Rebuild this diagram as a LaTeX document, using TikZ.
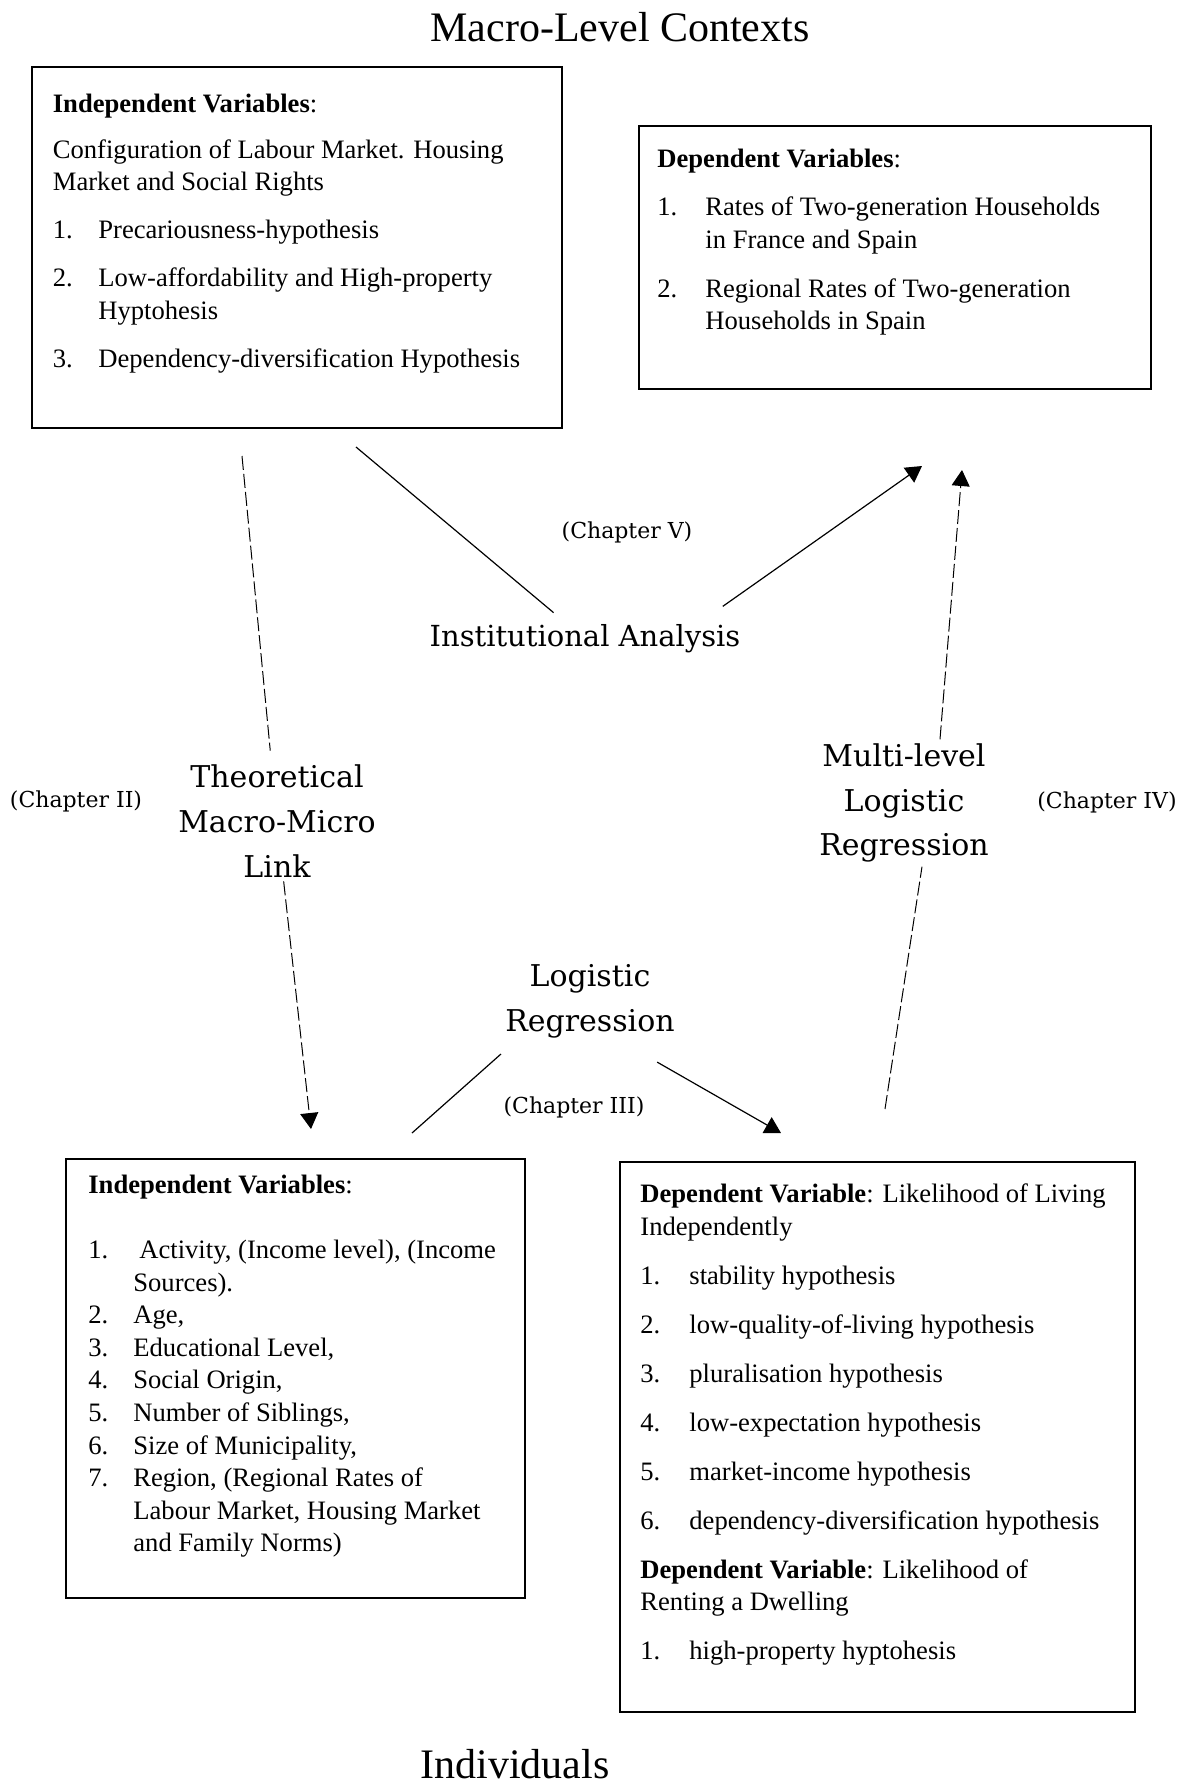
\documentclass[tikz,border=0pt]{standalone}
\usepackage{fontspec}
\setmainfont{Liberation Serif}
\newfontfamily\labelfont{DejaVu Serif}
\usetikzlibrary{arrows.meta}

\newlength{\itemw}
\newcommand{\itemno}[1]{\makebox[\itemw][l]{#1}}
\newcommand{\itemcont}{\hspace*{\itemw}}

\tikzset{
  frame/.style={draw, line width=0.8pt, inner sep=0pt, anchor=north west},
  boxtext/.style={anchor=north west, inner sep=0pt, align=left,
    font=\fontsize{13.3}{16.3}\selectfont},
  leveltitle/.style={anchor=base, inner sep=0pt, font=\fontsize{21}{25}\selectfont},
  method/.style={align=center, inner sep=2pt, font=\labelfont\fontsize{15}{22.3}\selectfont},
  chapter/.style={inner sep=1pt, font=\labelfont\fontsize{11}{13}\selectfont},
  link/.style={line width=0.6pt},
  dashlink/.style={line width=0.5pt, dash pattern=on 7pt off 2pt},
  tip/.style={-{Triangle[width=9pt,length=8pt]}}
}

\begin{document}
\begin{tikzpicture}[x=0.5pt, y=-0.5pt]
  \useasboundingbox (0,0) rectangle (1183,1788);

  % levels
  \node[leveltitle] (macro) at (620,41) {Macro-Level Contexts};
  \node[leveltitle] (micro) at (515,1778) {Individuals};

  % boxes
  \node[frame, minimum width=265pt, minimum height=180.5pt] (box1) at (31,66) {};
  \node[frame, minimum width=256pt, minimum height=131.5pt] (box2) at (638,125) {};
  \node[frame, minimum width=229.5pt, minimum height=219.5pt] (box3) at (65,1158) {};
  \node[frame, minimum width=257.5pt, minimum height=275pt] (box4) at (619,1161) {};

  % macro independent variables
  \setlength{\itemw}{22.75pt}
  \node[boxtext] (box1txt) at (52.5,93.6) {\textbf{Independent Variables}:\\[6.5pt]
    Configuration of Labour Market. Housing\\
    Market and Social Rights\\[7.7pt]
    \itemno{1.}Precariousness-hypothesis\\[7.7pt]
    \itemno{2.}Low-affordability and High-property\\
    \itemcont Hyptohesis\\[7.7pt]
    \itemno{3.}Dependency-diversification Hypothesis};

  % macro dependent variables
  \setlength{\itemw}{24pt}
  \node[boxtext] (box2txt) at (657,148.6) {\textbf{Dependent Variables}:\\[7.7pt]
    \itemno{1.}Rates of Two-generation Households\\
    \itemcont in France and Spain\\[8.2pt]
    \itemno{2.}Regional Rates of Two-generation\\
    \itemcont Households in Spain};

  % micro independent variables
  \setlength{\itemw}{22.5pt}
  \node[boxtext] (box3txt) at (88,1174.6) {\textbf{Independent Variables}:\\[16.2pt]
    \itemno{1.}\hspace{3pt}Activity, (Income level), (Income\\
    \itemcont Sources).\\
    \itemno{2.}Age,\\
    \itemno{3.}Educational Level,\\
    \itemno{4.}Social Origin,\\
    \itemno{5.}Number of Siblings,\\
    \itemno{6.}Size of Municipality,\\
    \itemno{7.}Region, (Regional Rates of\\
    \itemcont Labour Market, Housing Market\\
    \itemcont and Family Norms)};

  % micro dependent variables
  \setlength{\itemw}{24.5pt}
  \node[boxtext] (box4txt) at (640,1183.6) {\textbf{Dependent Variable}: Likelihood of Living\\
    Independently\\[8.2pt]
    \itemno{1.}stability hypothesis\\[8.2pt]
    \itemno{2.}low-quality-of-living hypothesis\\[8.2pt]
    \itemno{3.}pluralisation hypothesis\\[8.2pt]
    \itemno{4.}low-expectation hypothesis\\[8.2pt]
    \itemno{5.}market-income hypothesis\\[8.2pt]
    \itemno{6.}dependency-diversification hypothesis\\[8.2pt]
    \textbf{Dependent Variable}: Likelihood of\\
    Renting a Dwelling\\[8.2pt]
    \itemno{1.}high-property hyptohesis};

  % methods
  \node[method, font=\labelfont\fontsize{14.5}{22.3}\selectfont] (inst) at (585,639) {Institutional Analysis};
  \node[method] (theory) at (277,821) {Theoretical\\Macro-Micro\\Link};
  \node[method] (multi) at (904,803) {Multi-level\\Logistic\\Regression};
  \node[method] (logreg) at (590,1001) {Logistic\\Regression};

  % chapters
  \node[chapter] (ch2) at (76,801) {(Chapter II)};
  \node[chapter] (ch3) at (574,1107) {(Chapter III)};
  \node[chapter] (ch4) at (1107,802) {(Chapter IV)};
  \node[chapter] (ch5) at (627,532) {(Chapter V)};

  % free ends near the boxes
  \coordinate (b1a) at (242,456);
  \coordinate (b1b) at (356,447);
  \coordinate (b2a) at (922,466);
  \coordinate (b2b) at (962,470);
  \coordinate (b3a) at (311,1129);
  \coordinate (b3b) at (412,1133);
  \coordinate (b4a) at (781,1133);
  \coordinate (b4b) at (885,1109);

  % connectors
  \draw[dashlink, shorten >=5pt] (b1a) -- (theory);
  \draw[dashlink, tip] (theory) -- (b3a);
  \draw[link, shorten >=6pt] (b1b) -- (inst);
  \draw[link, tip] ([xshift=-11pt, yshift=7pt]inst.north east) -- (b2a);
  \draw[dashlink] (b4b) -- ([xshift=9pt]multi.south);
  \draw[dashlink, tip] ([xshift=18pt]multi.north) -- (b2b);
  \draw[link] ([yshift=-6pt]logreg.south west) -- (b3b);
  \draw[link, tip] ([xshift=-11pt, yshift=-10pt]logreg.south east) -- (b4a);
\end{tikzpicture}
\end{document}
